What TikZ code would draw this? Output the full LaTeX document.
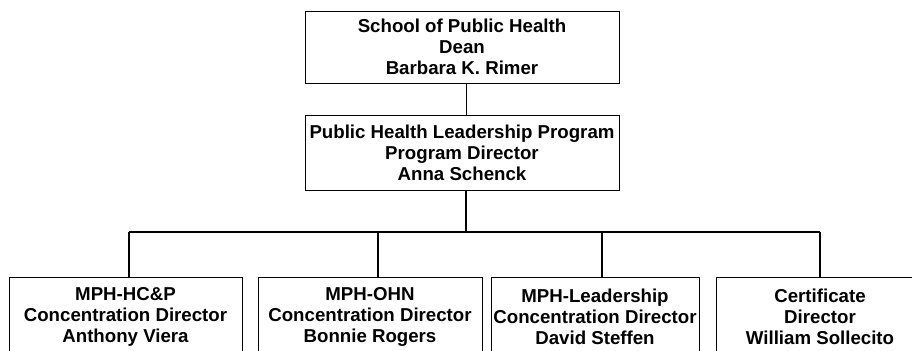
\documentclass[tikz,border=0pt]{standalone}
\usepackage{fontspec}
\setmainfont{Liberation Sans}
\begin{document}
\begin{tikzpicture}[x=0.75pt,y=-0.75pt,
  unit/.style={draw,line width=0.75pt,align=center,inner sep=0pt,font=\bfseries\fontsize{14}{15.75}\selectfont},
  link/.style={line width=1.5pt}]
\useasboundingbox (0,0) rectangle (912,350);
\clip (0,0) rectangle (912,350);
\node[unit,minimum width=235.5pt,minimum height=54pt] (dean) at (462,47) {School of Public Health\\Dean\\Barbara K. Rimer};
\node[unit,minimum width=235.5pt,minimum height=56.25pt] (phlp) at (462,152.5) {Public Health Leadership Program\\Program Director\\Anna Schenck};
\node[unit,minimum width=174.75pt,minimum height=60pt] (hcp) at (125.5,317) {MPH-HC\&P\\Concentration Director\\Anthony Viera};
\node[unit,minimum width=168pt,minimum height=60pt] (ohn) at (370,317) {MPH-OHN\\Concentration Director\\Bonnie Rogers};
\node[unit,minimum width=156pt,minimum height=60pt] (lead) at (595,317) {MPH-Leadership\\Concentration Director\\David Steffen};
\node[unit,minimum width=156pt,minimum height=60pt] (cert) at (820,317) {Certificate\\Director\\William Sollecito};
\coordinate (hub) at (466,232);
\coordinate (j1) at (129,232);
\coordinate (j2) at (378,232);
\coordinate (j3) at (602,232);
\coordinate (j4) at (820,232);
\draw[line width=0.75pt] (dean.south -| hub) -- (phlp.north -| hub);
\draw[link] (phlp.south -| hub) -- (hub);
\draw[link] (j1) -- (j4);
\foreach \j/\b in {j1/hcp,j2/ohn,j3/lead,j4/cert}
  \draw[link] (\j) -- (\j |- \b.north);
\end{tikzpicture}
\end{document}
